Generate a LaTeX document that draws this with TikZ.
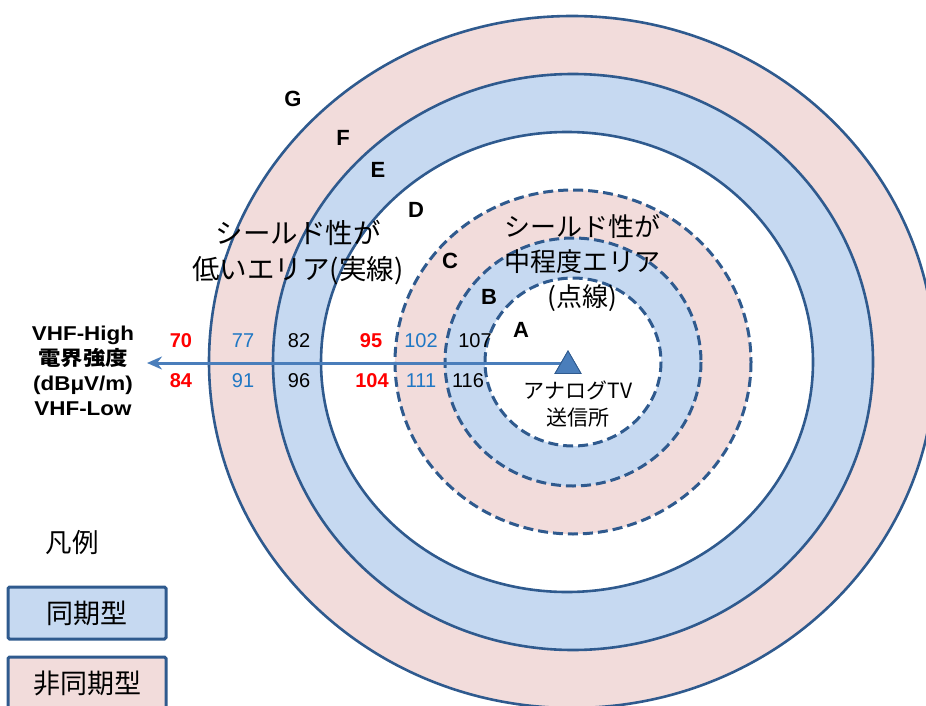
\documentclass[tikz,border=0pt]{standalone}
\usepackage{fontspec}
\setmainfont{Liberation Sans}
\newfontfamily\jp{Noto Sans CJK JP}
\usetikzlibrary{shapes.geometric,arrows.meta}

\definecolor{ringblue}{HTML}{C6D9F1}
\definecolor{ringpink}{HTML}{F2DCDB}
\definecolor{edgeblue}{HTML}{2F5A8E}
\definecolor{arrowblue}{HTML}{4A7EBB}
\definecolor{numred}{HTML}{FF0000}
\definecolor{numblue}{HTML}{1F77C4}

\begin{document}
\begin{tikzpicture}[x=1pt,y=-1pt,
  solidring/.style={draw=edgeblue,line width=2.6pt},
  dashring/.style={draw=edgeblue,line width=3pt,dash pattern=on 10pt off 5pt},
  letter/.style={font=\fontsize{22}{24}\selectfont\bfseries,inner sep=0pt},
  numr/.style={font=\fontsize{20}{22}\selectfont\bfseries,text=numred,inner sep=0pt},
  numb/.style={font=\fontsize{20}{22}\selectfont,text=numblue,inner sep=0pt},
  numk/.style={font=\fontsize{20}{22}\selectfont,text=black,inner sep=0pt},
  jtext/.style={align=center,inner sep=0pt},
  legendbox/.style={draw=edgeblue,line width=3pt,rounded corners=1.5pt,minimum width=158pt,minimum height=52pt,inner sep=0pt,font=\jp\fontsize{27}{30}\selectfont}
]
\useasboundingbox (0,0) rectangle (926,706);
\clip (0,0) rectangle (926,706);

% ring fills
\fill[ringpink] (572,362) ellipse [x radius=363, y radius=346];
\fill[ringblue] (573,362) ellipse [x radius=300, y radius=288];
\fill[white] (567,362) ellipse [x radius=246, y radius=230];
\fill[ringpink] (573,362) ellipse [x radius=178, y radius=172];
\fill[ringblue] (573,362) ellipse [x radius=128, y radius=124];
\fill[white] (573,362) ellipse [x radius=88, y radius=84];

% ring outlines
\draw[solidring] (572,362) ellipse [x radius=363, y radius=346];
\draw[solidring] (573,362) ellipse [x radius=300, y radius=288];
\draw[solidring] (567,362) ellipse [x radius=246, y radius=230];
\draw[dashring] (573,362) ellipse [x radius=178, y radius=172];
\draw[dashring] (573,362) ellipse [x radius=128, y radius=124];
\draw[dashring] (573,362) ellipse [x radius=88, y radius=84];

% transmitter and arrow
\node[regular polygon,regular polygon sides=3,fill=arrowblue,draw=edgeblue,line width=0.8pt,minimum size=30pt,inner sep=0pt] (tri) at (568,366) {};
\coordinate (arrowend) at (147,363);
\draw[arrowblue,line width=3pt,-{Stealth[length=15pt,width=13pt]}] (tri.center |- arrowend) -- (arrowend);
\node[regular polygon,regular polygon sides=3,fill=arrowblue,draw=edgeblue,line width=0.8pt,minimum size=30pt,inner sep=0pt] at (tri) {};

% zone letters
\node[letter] (G) at (293,99) {G};
\node[letter] (F) at (343,138) {F};
\node[letter] (E) at (378,170) {E};
\node[letter] (D) at (416,210) {D};
\node[letter] (C) at (450,261) {C};
\node[letter] (B) at (489,297) {B};
\node[letter] (A) at (521,330) {A};

% values
\node[numr] (n70) at (181,341) {70};
\node[numr] (n84) at (181,381) {84};
\node[numb] (n77) at (243,341) {77};
\node[numb] (n91) at (243,381) {91};
\node[numk] (n82) at (299,341) {82};
\node[numk] (n96) at (299,381) {96};
\node[numr] (n95) at (371,341) {95};
\node[numr] (n104) at (372,381) {104};
\node[numb] (n102) at (421,341) {102};
\node[numb] (n111) at (421,381) {111};
\node[numk] (n107) at (475,341) {107};
\node[numk] (n116) at (468,381) {116};

% axis label
\node[font=\fontsize{20}{25}\selectfont\bfseries,align=center,inner sep=0pt,xscale=1.12] (axis) at (83,371)
  {VHF-High\\{\jp\bfseries 電界強度}\\(dBμV/m)\\VHF-Low};

% area labels
\node[jtext,font=\jp\fontsize{27.5}{36}\selectfont] (low) at (298,253) {シールド性が\\低いエリア(実線)};
\node[jtext,font=\jp\fontsize{26}{35}\selectfont] (mid) at (582,263) {シールド性が\\中程度エリア\\(点線)};
\node[font=\jp\fontsize{21}{27}\selectfont,align=center,inner sep=0pt] (tx) at (578,404) {アナログTV\\送信所};

% legend
\node[font=\jp\fontsize{26.5}{28}\selectfont,inner sep=0pt] (legend) at (72,543) {凡例};
\node[legendbox,fill=ringblue] (sync) at (87,613) {同期型};
\node[legendbox,fill=ringpink] (async) at (87,683) {非同期型};
\end{tikzpicture}
\end{document}
